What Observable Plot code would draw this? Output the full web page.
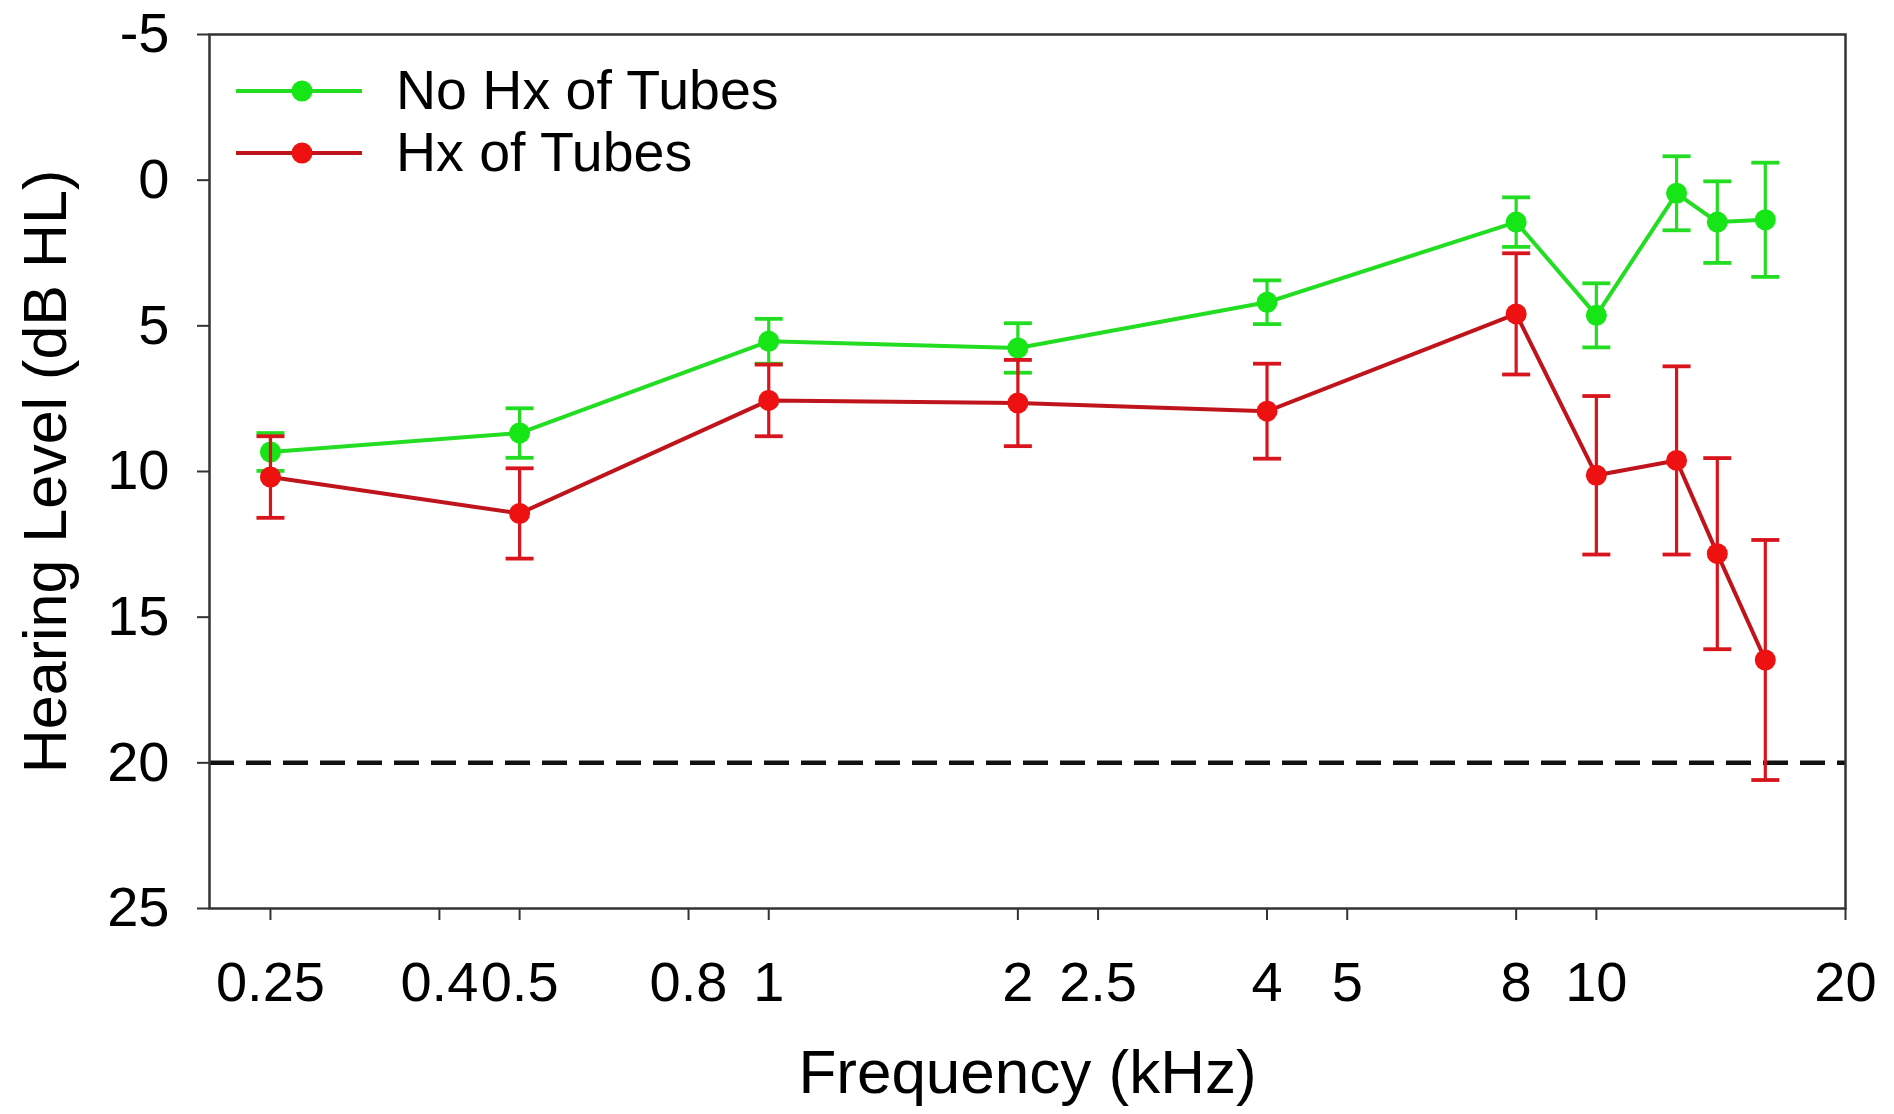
<!DOCTYPE html>
<html>
<head>
<meta charset="utf-8">
<script src="https://cdn.jsdelivr.net/npm/d3@7"></script>
<script src="https://cdn.jsdelivr.net/npm/@observablehq/plot@0.6"></script>
<style>
  html, body { margin: 0; padding: 0; background: #fff; }
  #wrap { position: relative; width: 1894px; height: 1114px; font-family: "Liberation Sans", Arial, sans-serif; }
  #legend { position: absolute; left: 236px; top: 60px; }
  .lrow { display: flex; align-items: center; height: 62px; }
  .lrow svg { width: 126px; height: 30px; margin-right: 34px; }
  .lrow span { font-size: 55.5px; color: #000; line-height: 1; }
</style>
</head>
<body>
<div id="wrap"></div>
<script>
// ---- data ----
const frequencies = [0.25, 0.5, 1, 2, 4, 8, 10, 12.5, 14, 16];           // kHz
const noHxMean = [9.33, 8.68, 5.53, 5.76, 4.19, 1.44, 4.64, 0.45, 1.44, 1.36]; // dB HL
const noHxErr  = [0.65, 0.85, 0.77, 0.85, 0.75, 0.85, 1.10, 1.27, 1.40, 1.96];
const hxMean   = [10.19, 11.44, 7.56, 7.65, 7.93, 4.59, 10.13, 9.62, 12.82, 16.47];
const hxErr    = [1.40, 1.55, 1.23, 1.48, 1.63, 2.08, 2.72, 3.23, 3.28, 4.12];
const seriesNames = ["No Hx of Tubes", "Hx of Tubes"];
const xTicks = [0.25, 0.4, 0.5, 0.8, 1, 2, 2.5, 4, 5, 8, 10, 20];
const xTickLabels = ["0.25", "0.4", "0.5", "0.8", "1", "2", "2.5", "4", "5", "8", "10", "20"];
const yTicks = [-5, 0, 5, 10, 15, 20, 25];
const yTickLabels = ["-5", "0", "5", "10", "15", "20", "25"];
const referenceLevel = [20];
const xTitle = "Frequency (kHz)";
const yTitle = "Hearing Level (dB HL)";

// ---- styles ----
const lineColors = {"No Hx of Tubes": "#22dd22", "Hx of Tubes": "#c0141d"};
const dotColors  = {"No Hx of Tubes": "#16e616", "Hx of Tubes": "#ee1111"};
const barColors  = {"No Hx of Tubes": "#22dd22", "Hx of Tubes": "#d8141c"};

const makeRows = (name, means, errs) => frequencies.map((f, i) => ({
  series: name, freq: f, mean: means[i], lo: means[i] - errs[i], hi: means[i] + errs[i]
}));
const seriesData = [
  makeRows(seriesNames[0], noHxMean, noHxErr),
  makeRows(seriesNames[1], hxMean, hxErr)
];
const xTickData = xTicks.map((v, i) => ({v, label: xTickLabels[i]}));
const yTickData = yTicks.map((v, i) => ({v, label: yTickLabels[i]}));

// horizontal cap for error bars
const capSymbol = {
  draw(ctx, size) { const r = Math.sqrt(size / Math.PI); ctx.moveTo(-r, 0); ctx.lineTo(r, 0); }
};

const seriesMarks = seriesData.flatMap(rows => {
  const name = rows[0].series;
  return [
    Plot.ruleX(rows, {x: "freq", y1: "lo", y2: "hi", stroke: barColors[name], strokeWidth: 3.2}),
    Plot.dot(rows, {x: "freq", y: "lo", symbol: capSymbol, r: 14, fill: "none", stroke: barColors[name], strokeWidth: 3.8}),
    Plot.dot(rows, {x: "freq", y: "hi", symbol: capSymbol, r: 14, fill: "none", stroke: barColors[name], strokeWidth: 3.8}),
    Plot.line(rows, {x: "freq", y: "mean", stroke: lineColors[name], strokeWidth: 4}),
    Plot.dot(rows, {x: "freq", y: "mean", r: 10.5, fill: dotColors[name], stroke: "none"})
  ];
});

const chart = Plot.plot({
  width: 1894,
  height: 1114,
  marginLeft: 209,
  marginRight: 49,
  marginTop: 34,
  marginBottom: 206,
  style: {fontFamily: '"Liberation Sans", Arial, sans-serif', color: "#000", background: "#fff"},
  x: {type: "log", domain: [0.211, 20]},
  y: {domain: [-5, 25], reverse: true},
  marks: [
    Plot.ruleY(referenceLevel, {stroke: "#111", strokeWidth: 4.5, strokeDasharray: "25,12"}),
    Plot.axisY({ticks: yTicks, tickSize: 12, text: null, label: null, stroke: "#333", strokeWidth: 2}),
    Plot.axisX({ticks: xTicks, tickSize: 12, text: null, label: null, stroke: "#333", strokeWidth: 2}),
    Plot.text(yTickData, {y: "v", text: "label", frameAnchor: "left", dx: -40, textAnchor: "end", fontSize: 56, fill: "#000"}),
    Plot.text(xTickData, {x: "v", text: "label", frameAnchor: "bottom", dy: 53, lineAnchor: "top", fontSize: 56, fill: "#000"}),
    ...seriesMarks,
    Plot.frame({stroke: "#333", strokeWidth: 2.5}),
    Plot.text([yTitle], {frameAnchor: "left", rotate: -90, dx: -163, textAnchor: "middle", fontSize: 61, fill: "#000"}),
    Plot.text([xTitle], {frameAnchor: "bottom", dy: 184, textAnchor: "middle", fontSize: 62, fill: "#000"})
  ]
});

const wrap = document.getElementById("wrap");
wrap.appendChild(chart);

// legend (overlaid inside the plot frame, top-left)
const legend = document.createElement("div");
legend.id = "legend";
seriesNames.forEach(name => {
  const row = document.createElement("div");
  row.className = "lrow";
  row.innerHTML = `<svg viewBox="0 0 126 30"><line x1="0" y1="15" x2="126" y2="15" stroke="${lineColors[name]}" stroke-width="4"/><circle cx="66" cy="15" r="10.5" fill="${dotColors[name]}"/></svg><span>${name}</span>`;
  legend.appendChild(row);
});
wrap.appendChild(legend);
</script>
</body>
</html>
